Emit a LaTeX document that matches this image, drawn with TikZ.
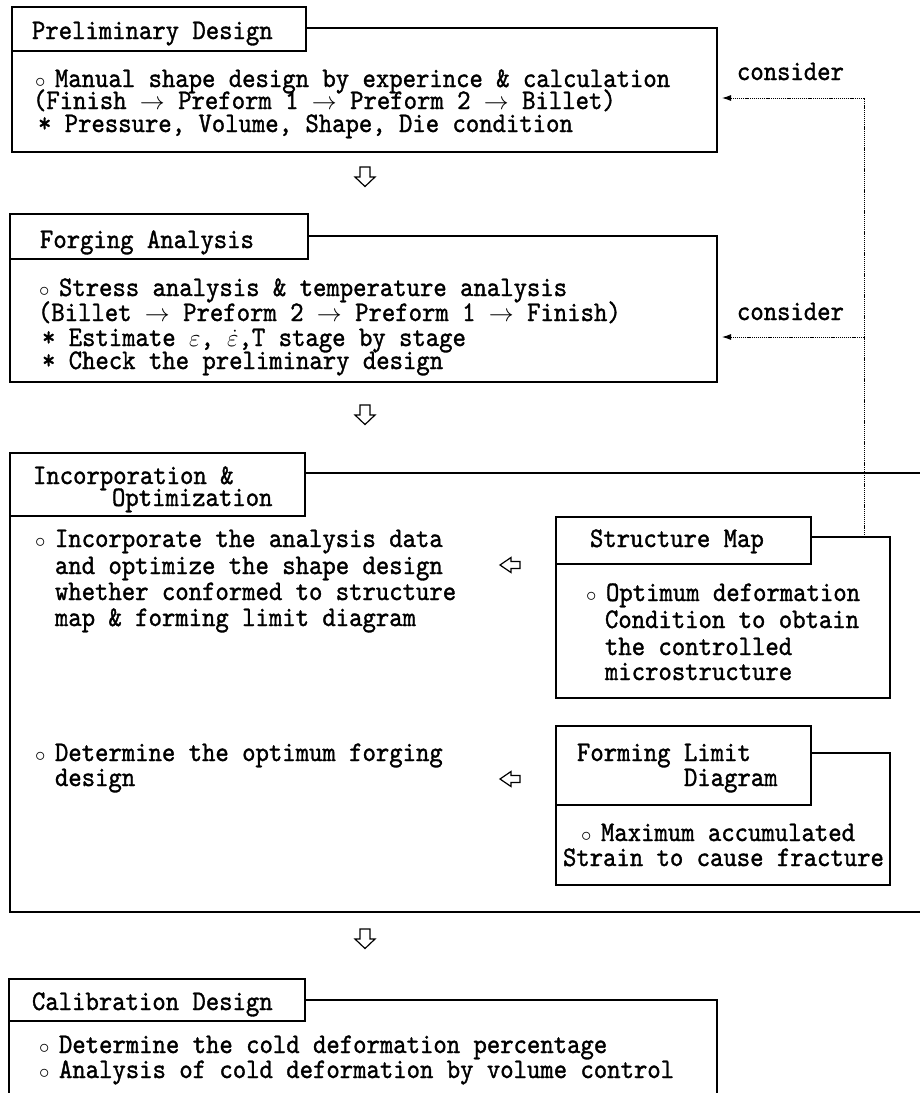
\documentclass[tikz,border=0pt]{standalone}
\usepackage{fontspec}
\newfontfamily\tw{lmmono10-regular.otf}[FakeBold=1.2,FakeStretch=0.9]
\usetikzlibrary{arrows.meta}
\newcommand\mybul{\makebox[26pt][l]{\hspace{6pt}$\scriptstyle\circ$}}
\begin{document}
\begin{tikzpicture}[x=1pt,y=-1pt,
  every node/.style={inner sep=0pt,outer sep=0pt,font=\tw\fontsize{28.3pt}{29pt}\selectfont},
  box/.style={draw,line width=1.3pt,anchor=north west},
  tab/.style={box,fill=white},
  txt/.style={anchor=base west},
  dnarrow/.pic={\draw[line width=1.2pt,line join=miter,fill=white] (-5,-10)--(5,-10)--(5,0)--(10,0)--(0,9.5)--(-10,0)--(-5,0)--cycle;},
  lfarrow/.pic={\draw[line width=1.2pt,line join=miter,fill=white] (10,-3.5)--(10,3.5)--(1,3.5)--(1,7.5)--(-10,0)--(1,-7.5)--(1,-3.5)--cycle;},
  dotline/.style={line width=0.9pt,dash pattern=on 1.2pt off 0.9pt,-{Latex[length=9pt,width=6pt]}}]
\clip (0,0) rectangle (920,1093);
\fill[white] (0,0) rectangle (920,1093);

% Preliminary Design
\node[box,minimum width=705pt,minimum height=124pt] (pbox) at (12,28) {};
\node[tab,minimum width=294pt,minimum height=44pt] (ptab) at (12,7) {};
\node[txt] (ptxt) at (32,39) {Preliminary Design};
\node[txt] (p1) at (29,87) {\mybul Manual shape design by experince \& calculation};
\node[txt] (p2) at (33,109) {(Finish $\rightarrow$ Preform 1 $\rightarrow$ Preform 2 $\rightarrow$ Billet)};
\node[txt] (p3) at (38,132) {* Pressure, Volume, Shape, Die condition};
\node[txt] (cons1) at (737,80) {consider};

\pic (d1) at (365,177) {dnarrow};

% Forging Analysis
\node[box,minimum width=707pt,minimum height=146pt] (fbox) at (10,236) {};
\node[tab,minimum width=298pt,minimum height=45pt] (ftab) at (10,214) {};
\node[txt] (ftxt) at (40,248) {Forging Analysis};
\node[txt] (f1) at (33,296) {\mybul Stress analysis \& temperature analysis};
\node[txt] (f2) at (38,321) {(Billet $\rightarrow$ Preform 2 $\rightarrow$ Preform 1 $\rightarrow$ Finish)};
\node[txt] (f3) at (42,346) {* Estimate $\varepsilon$, $\dot{\varepsilon}$,T stage by stage};
\node[txt] (f4) at (42,369) {* Check the preliminary design};
\node[txt] (cons2) at (737,320) {consider};

\pic (d2) at (365,415) {dnarrow};

% Incorporation & Optimization
\node[box,minimum width=930pt,minimum height=439pt] (ibox) at (10,473) {};
\node[tab,minimum width=295pt,minimum height=63pt] (itab) at (10,453) {};
\node[txt] (it1) at (33,484) {Incorporation \&};
\node[txt] (it2) at (112,506) {Optimization};
\node[txt] (i1) at (29,547) {\mybul Incorporate the analysis data};
\node[txt] (i2) at (55,574) {and optimize the shape design};
\node[txt] (i3) at (55,600) {whether conformed to structure};
\node[txt] (i4) at (55,626) {map \& forming limit diagram};
\node[txt] (i5) at (29,761) {\mybul Determine the optimum forging};
\node[txt] (i6) at (55,786) {design};

% Structure Map
\node[box,minimum width=334pt,minimum height=161pt] (sbox) at (556,537) {};
\node[tab,minimum width=255pt,minimum height=47pt] (stab) at (556,517) {};
\node[txt] (stxt) at (590,547) {Structure Map};
\node[txt] (s1) at (580,601) {\mybul Optimum deformation};
\node[txt] (s2) at (605,628) {Condition to obtain};
\node[txt] (s3) at (605,655) {the controlled};
\node[txt] (s4) at (605,680) {microstructure};

% Forming Limit Diagram
\node[box,minimum width=334pt,minimum height=132pt] (lbox) at (556,753) {};
\node[tab,minimum width=255pt,minimum height=79pt] (ltab) at (556,726) {};
\node[txt] (lt1) at (577,761) {Forming Limit};
\node[txt] (lt2) at (684,786) {Diagram};
\node[txt] (l1) at (575,841) {\mybul Maximum accumulated};
\node[txt] (l2) at (563,866) {Strain to cause fracture};

\pic (a1) at (510,565) {lfarrow};
\pic (a2) at (510,779) {lfarrow};

\pic (d3) at (365,939) {dnarrow};

% Calibration Design
\node[box,minimum width=708pt,minimum height=150pt] (cbox) at (9,1000) {};
\node[tab,minimum width=296pt,minimum height=42pt] (ctab) at (9,979) {};
\node[txt] (ctxt) at (32,1010) {Calibration Design};
\node[txt] (c1) at (33,1053) {\mybul Determine the cold deformation percentage};
\node[txt] (c2) at (33,1078) {\mybul Analysis of cold deformation by volume control};

% consider connectors
\coordinate (t1) at (722,98);
\coordinate (j2) at (864,337);
\coordinate (t2) at (722,337);
\draw[dotline] ([xshift=-26pt]sbox.north east) |- (t1);
\draw[dotline] (j2) -- (t2);
\end{tikzpicture}
\end{document}
